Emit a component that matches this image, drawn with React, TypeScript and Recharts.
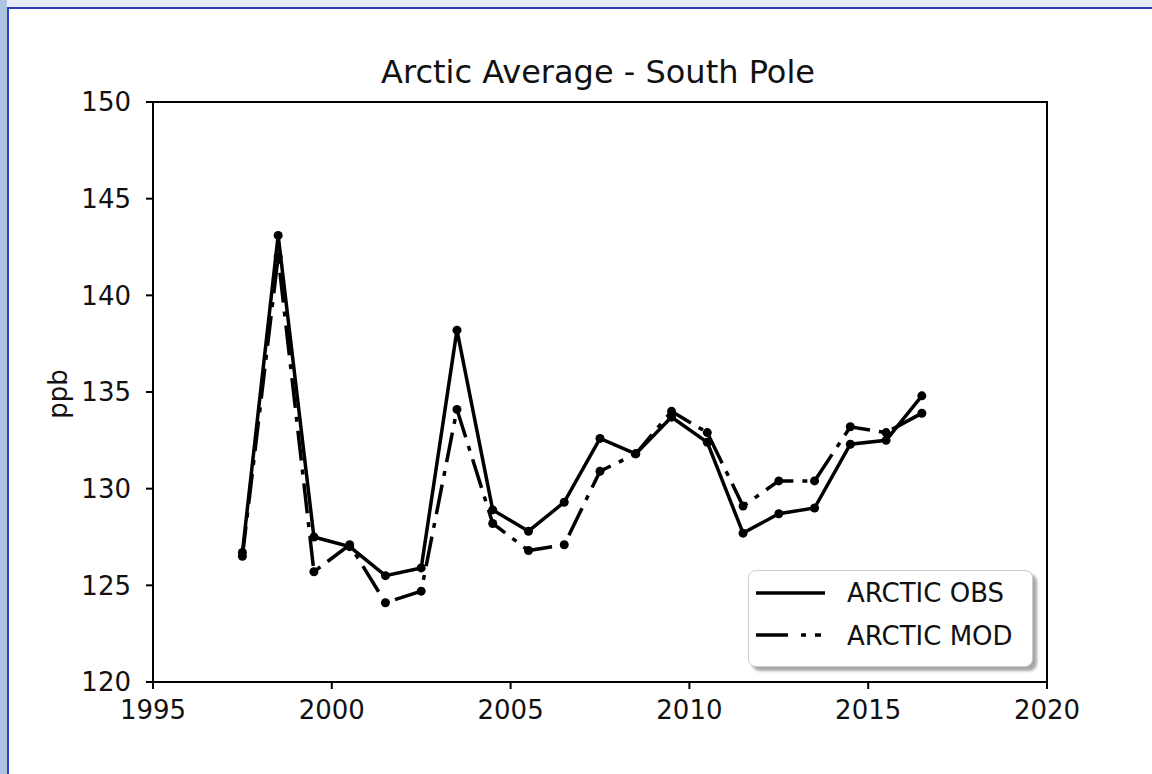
import React from "react";
import { LineChart, Line, XAxis, YAxis, Legend, ReferenceArea } from "recharts";

const years = [
  1997.5, 1998.5, 1999.5, 2000.5, 2001.5, 2002.5, 2003.5, 2004.5, 2005.5, 2006.5,
  2007.5, 2008.5, 2009.5, 2010.5, 2011.5, 2012.5, 2013.5, 2014.5, 2015.5, 2016.5,
];
const arcticObs = [
  126.7, 143.1, 127.5, 127.0, 125.5, 125.9, 138.2, 128.9, 127.8, 129.3,
  132.6, 131.8, 133.7, 132.4, 127.7, 128.7, 129.0, 132.3, 132.5, 134.8,
];
const arcticMod = [
  126.5, 142.0, 125.7, 127.1, 124.1, 124.7, 134.1, 128.2, 126.8, 127.1,
  130.9, 131.8, 134.0, 132.9, 129.1, 130.4, 130.4, 133.2, 132.9, 133.9,
];
const xTicks = [1995, 2000, 2005, 2010, 2015, 2020];
const yTicks = [120, 125, 130, 135, 140, 145, 150];

const FONT = "DejaVu Sans";
const MOD_DASH = "30 9 5 9";

const data = years.map((year, i) => ({ year, obs: arcticObs[i], mod: arcticMod[i] }));

const legendItems = [
  { name: "ARCTIC OBS", dash: undefined as string | undefined },
  { name: "ARCTIC MOD", dash: "32 13 5 9" },
];

function renderLegend() {
  return (
    <div
      style={{
        width: 285,
        height: 97,
        boxSizing: "border-box",
        border: "1px solid #cccccc",
        borderRadius: 8,
        background: "#fff",
        boxShadow: "4px 4px 3px rgba(0,0,0,0.35)",
      }}
    >
      <svg width={283} height={95} style={{ display: "block" }}>
        {legendItems.map((item, i) => (
          <g key={item.name}>
            <line
              x1={7}
              x2={item.dash ? 72 : 76}
              y1={22 + i * 42}
              y2={22 + i * 42}
              stroke="#000"
              strokeWidth={3.5}
              strokeDasharray={item.dash}
            />
            <text x={98} y={31 + i * 43} fontSize={26} fontFamily={FONT} fill="#111">
              {item.name}
            </text>
          </g>
        ))}
      </svg>
    </div>
  );
}

export default function App() {
  const tickStyle = { fill: "#111", fontSize: 26, fontFamily: FONT };
  return (
    <div style={{ position: "relative", width: 1152, height: 774, background: "#fff", overflow: "hidden" }}>
      <style>{"body{margin:0}"}</style>
      <div style={{ position: "absolute", left: 0, top: 0, width: 1152, height: 7, background: "#e6edf6" }} />
      <div style={{ position: "absolute", left: 0, top: 0, width: 7, height: 774, background: "#adc5e0" }} />
      <div style={{ position: "absolute", left: 7, top: 7, width: 1145, height: 2, background: "#2c40b8" }} />
      <div style={{ position: "absolute", left: 7, top: 7, width: 2, height: 767, background: "#2c40b8" }} />

      <div style={{ position: "absolute", left: 0, top: 0 }}>
        <LineChart width={1152} height={774} data={data} margin={{ top: 102, right: 105, bottom: 42, left: 53 }}>
          <XAxis
            dataKey="year"
            type="number"
            domain={[1995, 2020]}
            ticks={xTicks}
            allowDataOverflow
            height={50}
            stroke="#000"
            strokeWidth={2}
            tickSize={7}
            tickMargin={12}
            tick={tickStyle}
          />
          <YAxis
            type="number"
            domain={[120, 150]}
            ticks={yTicks}
            allowDataOverflow
            width={100}
            stroke="#000"
            strokeWidth={2}
            tickSize={7}
            tickMargin={15}
            tick={tickStyle}
          />
          <ReferenceArea x1={1995} x2={2020} y1={120} y2={150} fill="none" stroke="#000" strokeWidth={2} />
          <Legend
            layout="vertical"
            align="center"
            verticalAlign="middle"
            content={renderLegend}
            wrapperStyle={{ left: 748, top: 570, width: 285, height: 97 }}
          />
          <Line
            dataKey="mod"
            name="ARCTIC MOD"
            stroke="#000"
            strokeWidth={3.5}
            strokeDasharray={MOD_DASH}
            dot={{ r: 4.5, fill: "#000", stroke: "none" }}
            isAnimationActive={false}
          />
          <Line
            dataKey="obs"
            name="ARCTIC OBS"
            stroke="#000"
            strokeWidth={3.5}
            dot={{ r: 4.5, fill: "#000", stroke: "none" }}
            isAnimationActive={false}
          />
        </LineChart>
      </div>

      <div
        style={{
          position: "absolute",
          left: 98,
          top: 56,
          width: 1000,
          textAlign: "center",
          fontFamily: FONT,
          fontSize: 32,
          lineHeight: "32px",
          color: "#111",
        }}
      >
        Arctic Average - South Pole
      </div>
      <div
        style={{
          position: "absolute",
          left: 8,
          top: 381,
          width: 100,
          height: 26,
          textAlign: "center",
          fontFamily: FONT,
          fontSize: 26,
          lineHeight: "26px",
          color: "#111",
          transform: "rotate(-90deg)",
        }}
      >
        ppb
      </div>
    </div>
  );
}
